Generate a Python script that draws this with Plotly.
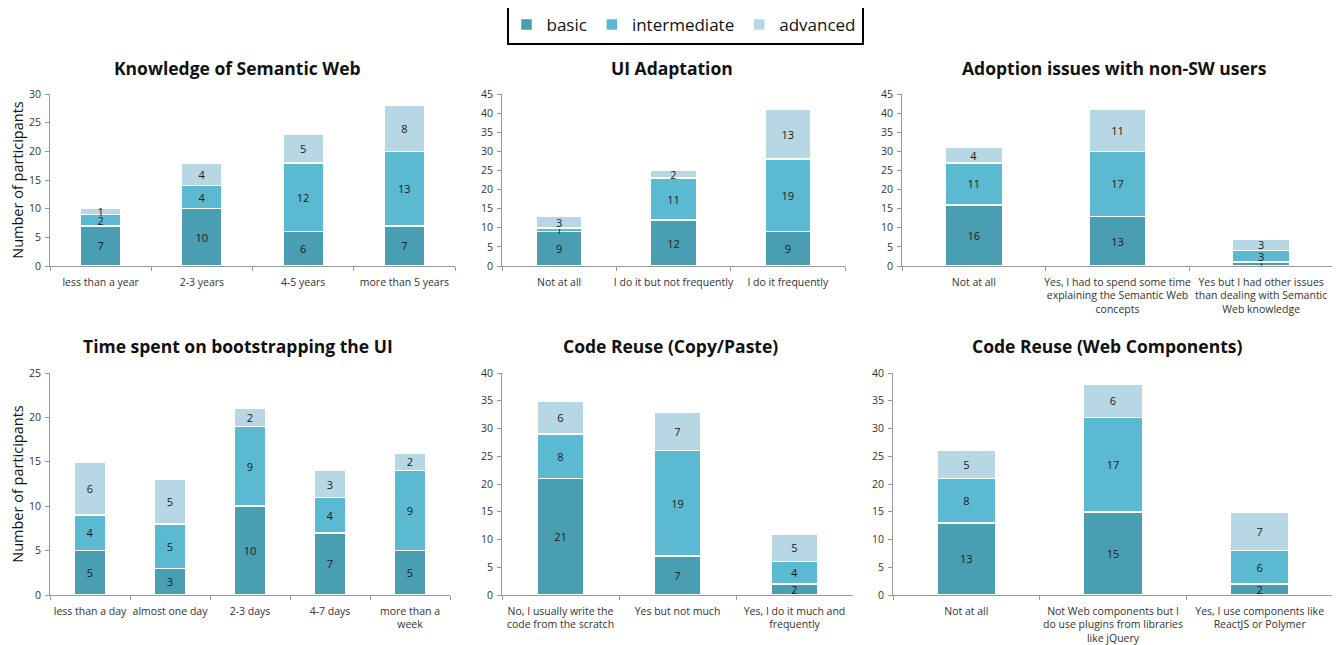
import plotly.graph_objects as go

series_names = ["basic", "intermediate", "advanced"]
colors = ["#4A9EB2", "#5CB9D2", "#B6D7E3"]

titles = ["Knowledge of Semantic Web", "UI Adaptation", "Adoption issues with non-SW users",
          "Time spent on bootstrapping the UI", "Code Reuse (Copy/Paste)", "Code Reuse (Web Components)"]

cats_knowledge = ["less than a year", "2-3 years", "4-5 years", "more than 5 years"]
knowledge_basic = [7, 10, 6, 7]
knowledge_inter = [2, 4, 12, 13]
knowledge_adv = [1, 4, 5, 8]

cats_ui = ["Not at all", "I do it but not frequently", "I do it frequently"]
ui_basic = [9, 12, 9]
ui_inter = [1, 11, 19]
ui_adv = [3, 2, 13]

cats_adoption = ["Not at all", "Yes, I had to spend some time<br>explaining the Semantic Web<br>concepts",
                 "Yes but I had other issues<br>than dealing with Semantic<br>Web knowledge"]
adoption_basic = [16, 13, 1]
adoption_inter = [11, 17, 3]
adoption_adv = [4, 11, 3]

cats_time = ["less than a day", "almost one day", "2-3 days", "4-7 days", "more than a<br>week"]
time_basic = [5, 3, 10, 7, 5]
time_inter = [4, 5, 9, 4, 9]
time_adv = [6, 5, 2, 3, 2]

cats_copy = ["No, I usually write the<br>code from the scratch", "Yes but not much", "Yes, I do it much and<br>frequently"]
copy_basic = [21, 7, 2]
copy_inter = [8, 19, 4]
copy_adv = [6, 7, 5]

cats_web = ["Not at all", "Not Web components but I<br>do use plugins from libraries<br>like jQuery",
            "Yes, I use components like<br>ReactJS or Polymer"]
web_basic = [13, 15, 2]
web_inter = [8, 17, 6]
web_adv = [5, 6, 7]

y_ranges = [30, 45, 45, 25, 40, 40]
y_dticks = [5, 5, 5, 5, 5, 5]

panels = [
    (cats_knowledge, [knowledge_basic, knowledge_inter, knowledge_adv]),
    (cats_ui, [ui_basic, ui_inter, ui_adv]),
    (cats_adoption, [adoption_basic, adoption_inter, adoption_adv]),
    (cats_time, [time_basic, time_inter, time_adv]),
    (cats_copy, [copy_basic, copy_inter, copy_adv]),
    (cats_web, [web_basic, web_inter, web_adv]),
]

# the page body has an 8px margin: the figure is drawn at (8, 8) of the window
OFF = 8
W, H = 1340 - OFF, 645 - OFF
# pixel layout of plot areas in window coords: (x0, x1, ytop, ybottom)
boxes = [
    (50, 455, 94, 266),
    (502, 845, 94, 266),
    (902, 1333, 94, 266),
    (50, 450, 373, 595),
    (502, 853, 373, 595),
    (893, 1333, 373, 595),
]
title_pos = [(237, 68), (672, 68), (1114, 68), (238, 346), (670, 346), (1107, 346)]

fig = go.Figure()
font_fam = "Open Sans, Lato, sans-serif"

for i, (cats, vals) in enumerate(panels):
    ax = "" if i == 0 else str(i + 1)
    for s, (name, col) in enumerate(zip(series_names, colors)):
        fig.add_trace(go.Bar(
            x=cats, y=vals[s], name=name, marker=dict(color=col, line=dict(color="white", width=1.5)),
            text=vals[s], textposition="inside", insidetextanchor="middle", textangle=0,
            textfont=dict(size=11, color="#1a1a1a", family=font_fam),
            showlegend=(i == 0), legendgroup=name,
            xaxis="x" + ax, yaxis="y" + ax,
        ))
    x0, x1, yt, yb = boxes[i]
    xd = [(x0 - OFF) / W, (x1 - OFF) / W]
    yd = [1 - (yb - OFF) / H, 1 - (yt - OFF) / H]
    axis_common = dict(showline=True, linecolor="#999999", linewidth=1, ticks="outside",
                       tickcolor="#999999", ticklen=4, tickfont=dict(size=10.5, color="#333333", family=font_fam),
                       showgrid=False, zeroline=False, automargin=False)
    fig.layout["xaxis" + ax] = dict(domain=xd, anchor="y" + ax, tickson="boundaries", type="category",
                                    tickangle=0, ticklabelstandoff=6, **axis_common)
    yaxis = dict(domain=yd, anchor="x" + ax, range=[0, y_ranges[i]], dtick=y_dticks[i],
                 ticklabelstandoff=2, **axis_common)
    if i in (0, 3):
        yaxis["title"] = dict(text="Number of participants", font=dict(size=14.5, color="#111111", family=font_fam), standoff=6)
    fig.layout["yaxis" + ax] = yaxis
    tx, ty = title_pos[i]
    fig.add_annotation(text="<b>" + titles[i] + "</b>", x=(tx - OFF) / W, y=1 - (ty - OFF) / H,
                       xref="paper", yref="paper", showarrow=False, xanchor="center", yanchor="middle",
                       font=dict(size=17.5, color="#111111", family=font_fam))

fig.update_layout(
    width=W, height=H, barmode="stack", bargap=0.6,
    margin=dict(l=0, r=0, t=0, b=0, autoexpand=False),
    plot_bgcolor="white", paper_bgcolor="white",
    uniformtext=dict(minsize=11, mode="show"),
    legend=dict(orientation="h", x=(685 - OFF) / W, xanchor="center", y=1 - (5 - OFF) / H, yanchor="top",
                bordercolor="#000000", borderwidth=2, font=dict(size=17, color="#111111", family=font_fam),
                itemwidth=30, bgcolor="white"),
)

fig.write_html("out.html")
